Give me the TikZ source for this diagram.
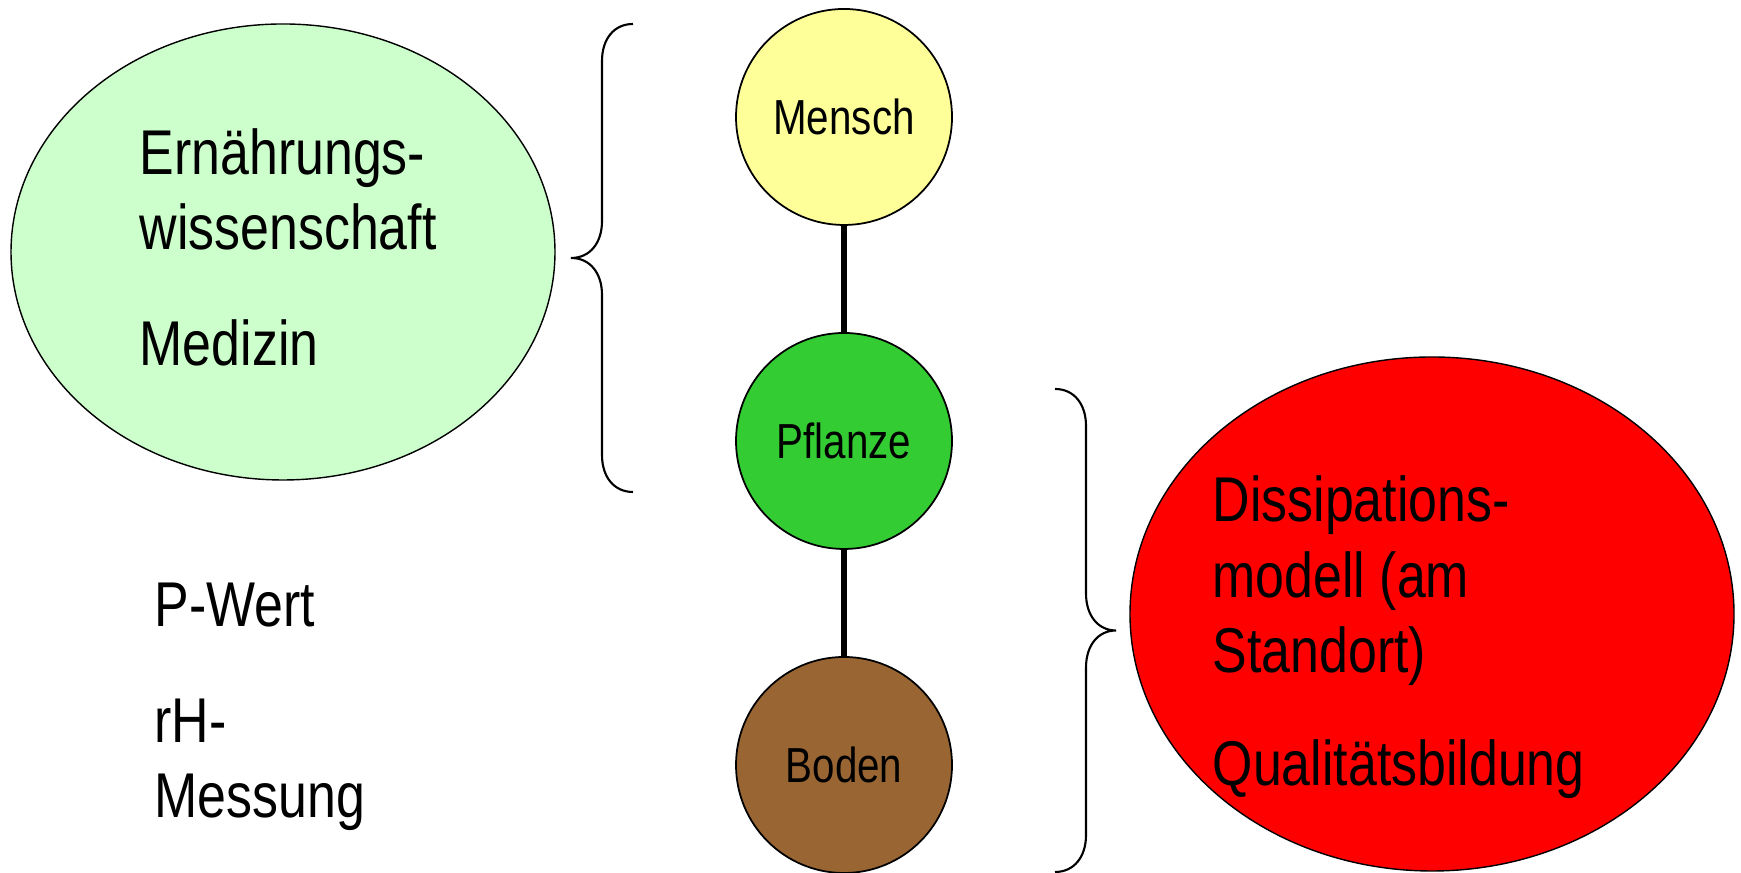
\documentclass[tikz,border=0pt]{standalone}
\usepackage{fontspec}
\setmainfont{Liberation Sans}[FakeStretch=0.82]

\definecolor{hellgruen}{RGB}{204,255,204}
\definecolor{gelb}{RGB}{255,255,153}
\definecolor{gruen}{RGB}{51,204,51}
\definecolor{braun}{RGB}{153,102,51}

\tikzset{
  kreis/.style={circle, draw, line width=0.5pt, minimum size=2.16cm, inner sep=0pt,
                font=\fontsize{14}{16}\selectfont},
  klammer/.style={semithick},
  gross/.style={font=\fontsize{18}{21.5}\selectfont, align=left, inner sep=0pt, anchor=base west},
}

\begin{document}
\begin{tikzpicture}
        \useasboundingbox (0,0) rectangle (17.41,8.73);

        % Ellipsen
        \draw[fill=hellgruen, thin] (2.83,6.21) ellipse (2.72 and 2.28);
        \draw[fill=red, thin] (14.32,2.59) ellipse (3.02 and 2.57);

        % Kette Mensch - Pflanze - Boden
        \node[kreis, fill=gelb] (mensch) at (8.44,7.56) {Mensch};
        \node[kreis, fill=gruen] (pflanze) at (8.44,4.32) {Pflanze};
        \node[kreis, fill=braun] (boden) at (8.44,1.08) {Boden};
        \draw[line width=1.6pt] (mensch) -- (pflanze);
        \draw[line width=1.6pt] (pflanze) -- (boden);

        % Klammern
        \draw[klammer] (6.33,8.49) .. controls (6.14,8.49) and (6.02,8.34) .. (6.02,8.12)
            -- (6.02,6.52) .. controls (6.02,6.30) and (5.90,6.15) .. (5.71,6.15)
            .. controls (5.90,6.15) and (6.02,6.00) .. (6.02,5.78)
            -- (6.02,4.18) .. controls (6.02,3.96) and (6.14,3.81) .. (6.33,3.81);
        \draw[klammer] (10.55,4.84) .. controls (10.74,4.84) and (10.86,4.69) .. (10.86,4.47)
            -- (10.86,2.795) .. controls (10.86,2.575) and (10.98,2.425) .. (11.16,2.425)
            .. controls (10.98,2.425) and (10.86,2.275) .. (10.86,2.055)
            -- (10.86,0.38) .. controls (10.86,0.16) and (10.74,0.01) .. (10.55,0.01);

        % Texte (base = letzte Zeile)
        \node[gross] (ernaehrung) at (1.39,6.23) {Ernährungs-\\wissenschaft};
        \node[gross] (medizin) at (1.39,5.07) {Medizin};
        \node[gross] (pwert) at (1.54,2.46) {P-Wert};
        \node[gross] (rhmessung) at (1.54,0.55) {rH-\\Messung};
        \node[gross] (dissipation) at (12.12,2.00) {Dissipations-\\modell (am\\Standort)};
        \node[gross] (qualitaet) at (12.12,0.87) {Qualitätsbildung};

\end{tikzpicture}
\end{document}
